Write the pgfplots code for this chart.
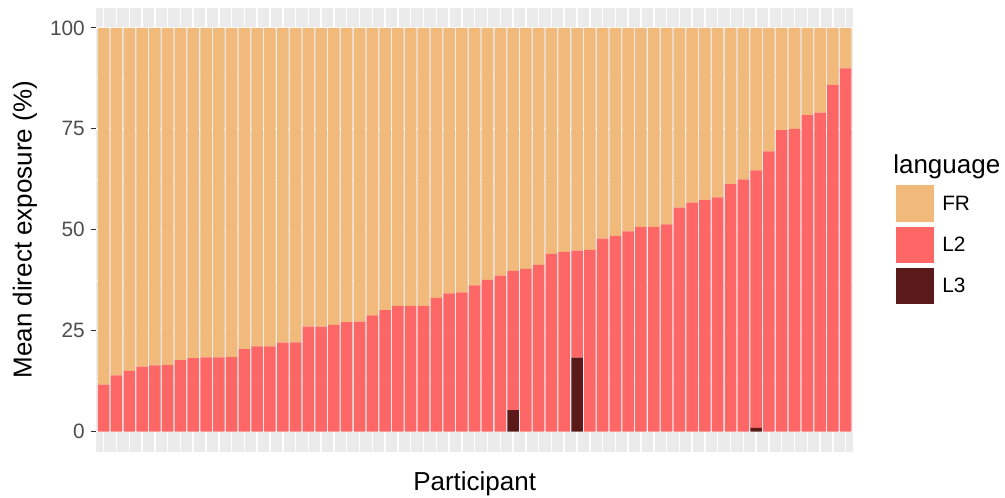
\documentclass[border=0pt]{standalone}
\usepackage{fontspec}
\setmainfont{Liberation Sans}
\usepackage{pgfplots}
\usepackage{pgfplotstable}
\pgfplotsset{compat=1.18}
\definecolor{panelgrey}{RGB}{235,235,235}
\definecolor{cFR}{RGB}{241,186,123}
\definecolor{cLtwo}{RGB}{255,102,102}
\definecolor{cLthree}{RGB}{92,25,25}
\definecolor{ticktext}{RGB}{77,77,77}
\definecolor{tickline}{RGB}{51,51,51}

\pgfplotstableread{
x L3 L2 FR
1 0 11.6 88.4
2 0 13.9 86.1
3 0 15.0 85.0
4 0 16.1 83.9
5 0 16.4 83.6
6 0 16.5 83.5
7 0 17.7 82.3
8 0 18.2 81.8
9 0 18.4 81.6
10 0 18.4 81.6
11 0 18.5 81.5
12 0 20.4 79.6
13 0 21.1 78.9
14 0 21.1 78.9
15 0 22.0 78.0
16 0 22.1 77.9
17 0 26.0 74.0
18 0 26.0 74.0
19 0 26.4 73.6
20 0 27.1 72.9
21 0 27.2 72.8
22 0 28.8 71.2
23 0 30.1 69.9
24 0 31.1 68.9
25 0 31.1 68.9
26 0 31.1 68.9
27 0 33.1 66.9
28 0 34.2 65.8
29 0 34.5 65.5
30 0 36.2 63.8
31 0 37.6 62.4
32 0 38.6 61.4
33 5.3 34.5 60.2
34 0 40.3 59.7
35 0 41.3 58.7
36 0 44.0 56.0
37 0 44.5 55.5
38 18.3 26.5 55.2
39 0 45.0 55.0
40 0 47.8 52.2
41 0 48.5 51.5
42 0 49.6 50.4
43 0 50.7 49.3
44 0 50.7 49.3
45 0 51.3 48.7
46 0 55.5 44.5
47 0 56.7 43.3
48 0 57.3 42.7
49 0 58.0 42.0
50 0 61.3 38.7
51 0 62.5 37.5
52 0.9 63.8 35.3
53 0 69.4 30.6
54 0 74.7 25.3
55 0 75.0 25.0
56 0 78.4 21.6
57 0 79.0 21.0
58 0 85.9 14.1
59 0 90.0 10.0
}\datatable

\begin{document}
\begin{tikzpicture}
\path[use as bounding box] (-72pt,-33.98pt) rectangle (681.75pt,338.78pt);
\begin{axis}[
  at={(0,0)}, anchor=south west,
  scale only axis,
  width=568pt, height=333pt,
  xmin=0.4, xmax=59.6,
  ymin=-5, ymax=105,
  axis line style={draw=none},
  axis background/.style={fill=panelgrey},
  ybar stacked,
  bar width=0.9,
  xtick={1,...,59},
  xticklabels={},
  x tick style={draw=none},
  ytick={0,25,50,75,100},
  minor ytick={12.5,37.5,62.5,87.5},
  grid=both,
  major grid style={white, line width=1.1pt},
  minor grid style={white, line width=0.55pt},
  ytick align=outside,
  y tick style={tickline, line width=0.8pt},
  major tick length=4pt,
  minor tick length=0pt,
  tick pos=left,
  /pgf/number format/assume math mode=true,
  yticklabel style={font=\fontsize{15.6}{18}\selectfont, text=ticktext, inner sep=0pt, anchor=east, xshift=-4.25pt},
  ylabel={Mean direct exposure (\%)},
  xlabel={Participant},
  every axis y label/.style={at={(rel axis cs:-0.09375,0.5)}, rotate=90, anchor=center, font=\fontsize{19.5}{22}\selectfont},
  every axis x label/.style={at={(rel axis cs:0.5,-0.0878)}, anchor=base, font=\fontsize{19.5}{22}\selectfont},
  clip=false,
]
\addplot[fill=cLthree, draw=none] table[x=x, y=L3] {\datatable};
\addplot[fill=cLtwo, draw=none] table[x=x, y=L2] {\datatable};
\addplot[fill=cFR, draw=none] table[x=x, y=FR] {\datatable};
\end{axis}
% legend
\node[anchor=base west, inner sep=0pt, font=\fontsize{19.5}{22}\selectfont] at (597.75pt,208.9pt) {language};
\fill[cFR, draw=white, line width=0.5pt] (599.25pt,172.3pt) rectangle (628.5pt,200.8pt);
\fill[cLtwo, draw=white, line width=0.5pt] (599.25pt,141.5pt) rectangle (628.5pt,169.3pt);
\fill[cLthree, draw=white, line width=0.5pt] (599.25pt,110.8pt) rectangle (628.5pt,138.5pt);
\node[anchor=west, inner sep=0pt, font=\fontsize{15.6}{18}\selectfont] at (634.5pt,186.5pt) {FR};
\node[anchor=west, inner sep=0pt, font=\fontsize{15.6}{18}\selectfont] at (634.5pt,155.4pt) {L2};
\node[anchor=west, inner sep=0pt, font=\fontsize{15.6}{18}\selectfont] at (634.5pt,124.6pt) {L3};
\end{tikzpicture}
\end{document}
